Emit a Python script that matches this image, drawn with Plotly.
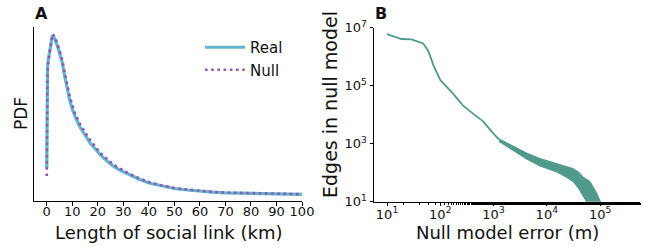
import plotly.graph_objects as go

# ---------------- Panel A data ----------------
dist_km = [0, 0.15, 0.3, 0.6, 1.0, 1.5, 2.0, 2.3, 2.8, 3.5, 4.2, 5, 6, 7, 8, 9, 10, 11, 13,
           15.5, 17, 19.4, 21, 23.4, 26, 28.6, 32.5, 36, 40, 45, 50, 55, 60, 65, 70, 80, 90, 100]
pdf_real = [10.92, 33.43, 44.02, 46.67, 48.33, 51.31, 53.95, 54.78, 54.28, 52.96, 51.31, 48.99,
            46.01, 41.38, 37.07, 33.43, 30.45, 28.14, 24.49, 21.18, 19.20, 16.88, 15.23, 13.41,
            11.59, 10.26, 8.61, 7.28, 5.96, 4.97, 4.14, 3.64, 3.24, 2.91, 2.71, 2.48, 2.32, 2.22]
pdf_null = [8.28, 30.12, 42.70, 46.34, 48.33, 51.64, 54.28, 55.28, 54.62, 53.62, 51.97, 49.98,
            47.00, 42.70, 38.40, 34.76, 31.78, 29.13, 25.49, 22.18, 20.19, 17.54, 15.89, 14.07,
            12.08, 10.76, 8.94, 7.61, 6.29, 5.13, 4.30, 3.81, 3.31, 2.98, 2.78, 2.55, 2.35, 2.25]
pdf_real = [v / 1000 for v in pdf_real]
pdf_null = [v / 1000 for v in pdf_null]
a_ticks = [0, 10, 20, 30, 40, 50, 60, 70, 80, 90, 100]

# ---------------- Panel B data ----------------
err_m = [10, 18.8, 28.8, 38.9, 47.9, 60.3, 74.1, 100, 129, 162, 204, 269, 417, 631, 1000, 1259]
edges = [6.03e6, 4.07e6, 3.98e6, 3.31e6, 2.88e6, 1.48e6, 5.13e5, 1.58e5, 1.0e5, 6.17e4,
         3.72e4, 2.04e4, 1.07e4, 6.03e3, 2.24e3, 1.40e3]
band_err = [1259, 2042, 4169, 7413, 15136, 23442, 31623, 39811, 48978, 64565, 85114, 104713]
band_upper = [1479, 955, 479, 309, 214, 166, 138, 105, 69, 50, 21, 8.9]
band_lower = [1202, 692, 295, 170, 107, 69, 48, 28, 14, 6.3, 3, 3]
b_xticks = [1e1, 1e2, 1e3, 1e4, 1e5]
b_xtext = ["10<sup>1</sup>", "10<sup>2</sup>", "10<sup>3</sup>", "10<sup>4</sup>", "10<sup>5</sup>"]
b_yticks = [1e1, 1e3, 1e5, 1e7]
b_ytext = ["10<sup>1</sup>", "10<sup>3</sup>", "10<sup>5</sup>", "10<sup>7</sup>"]

REAL_C = "#63b4d4"
NULL_C = "#8c5aa8"
TEAL = "#4f9a8b"
FONT = "DejaVu Sans"

fig = go.Figure()
fig.add_trace(go.Scatter(x=dist_km, y=pdf_real, mode="lines", name="Real",
                         line=dict(color=REAL_C, width=3.2), xaxis="x", yaxis="y"))
fig.add_trace(go.Scatter(x=dist_km, y=pdf_null, mode="lines", name="Null",
                         line=dict(color=NULL_C, width=2.6, dash="2.6px,3.6px"),
                         xaxis="x", yaxis="y"))

fig.add_trace(go.Scatter(x=err_m, y=edges, mode="lines", showlegend=False,
                         line=dict(color=TEAL, width=1.8), xaxis="x2", yaxis="y2"))
fig.add_trace(go.Scatter(x=band_err, y=band_upper, mode="lines", showlegend=False,
                         line=dict(color=TEAL, width=1), xaxis="x2", yaxis="y2"))
fig.add_trace(go.Scatter(x=band_err, y=band_lower, mode="lines", showlegend=False,
                         fill="tonexty", fillcolor=TEAL,
                         line=dict(color=TEAL, width=1), xaxis="x2", yaxis="y2"))

axis_common = dict(showline=True, linecolor="#000", linewidth=1, showgrid=False,
                   zeroline=False, ticks="outside", ticklen=3.5, tickcolor="#000",
                   tickfont=dict(family=FONT, size=13, color="#111"))

W, H = 649, 247
fig.update_layout(
    width=W, height=H, margin=dict(l=0, r=0, t=0, b=0, pad=0, autoexpand=False),
    paper_bgcolor="white", plot_bgcolor="white",
    font=dict(family=FONT, color="#111"),
    xaxis=dict(domain=[34 / W, 302 / W], range=[-5, 100], tickvals=a_ticks,
               anchor="y", ticklabelstandoff=-5, **axis_common),
    yaxis=dict(domain=[(H - 201) / H, (H - 27) / H], range=[0, 0.0576],
               anchor="x", showline=True, linecolor="#000", linewidth=1,
               showgrid=False, zeroline=False, showticklabels=False, ticks=""),
    xaxis2=dict(domain=[374 / W, 640 / W], type="log", range=[0.756, 5.75],
                tickvals=b_xticks, ticktext=b_xtext, anchor="y2", ticklabelstandoff=-3,
                minor=dict(ticks="outside", ticklen=2, tickwidth=0.8, tickcolor="#000", showgrid=False),
                **axis_common),
    yaxis2=dict(domain=[(H - 201.7) / H, (H - 27.7) / H], type="log", range=[1, 7],
                tickvals=b_yticks, ticktext=b_ytext, anchor="x2", **axis_common),
    legend=dict(x=200 / W, y=(H - 31) / H, xanchor="left", yanchor="top",
                bgcolor="rgba(0,0,0,0)", itemwidth=40, traceorder="normal",
                font=dict(family=FONT, size=15, color="#111")),
    showlegend=True,
)

ann = [
    dict(text="<b>A</b>", x=41 / W, y=(H - 13) / H, font=dict(size=16)),
    dict(text="<b>B</b>", x=381 / W, y=(H - 13) / H, font=dict(size=16)),
    dict(text="Length of social link (km)", x=168 / W, y=(H - 232) / H, font=dict(size=18)),
    dict(text="Null model error (m)", x=507 / W, y=(H - 232) / H, font=dict(size=18)),
    dict(text="PDF", x=21 / W, y=(H - 114) / H, textangle=-90, font=dict(size=17)),
    dict(text="Edges in null model", x=330 / W, y=(H - 105) / H, textangle=-90, font=dict(size=19)),
]
for a in ann:
    a.update(xref="paper", yref="paper", showarrow=False, xanchor="center", yanchor="middle")
    a["font"] = dict(family=FONT, color="#111", **a["font"])
    fig.add_annotation(**a)

fig.write_html("out.html", config={"displayModeBar": False},
               post_script="document.body.style.margin='0';document.documentElement.style.overflow='hidden';")
